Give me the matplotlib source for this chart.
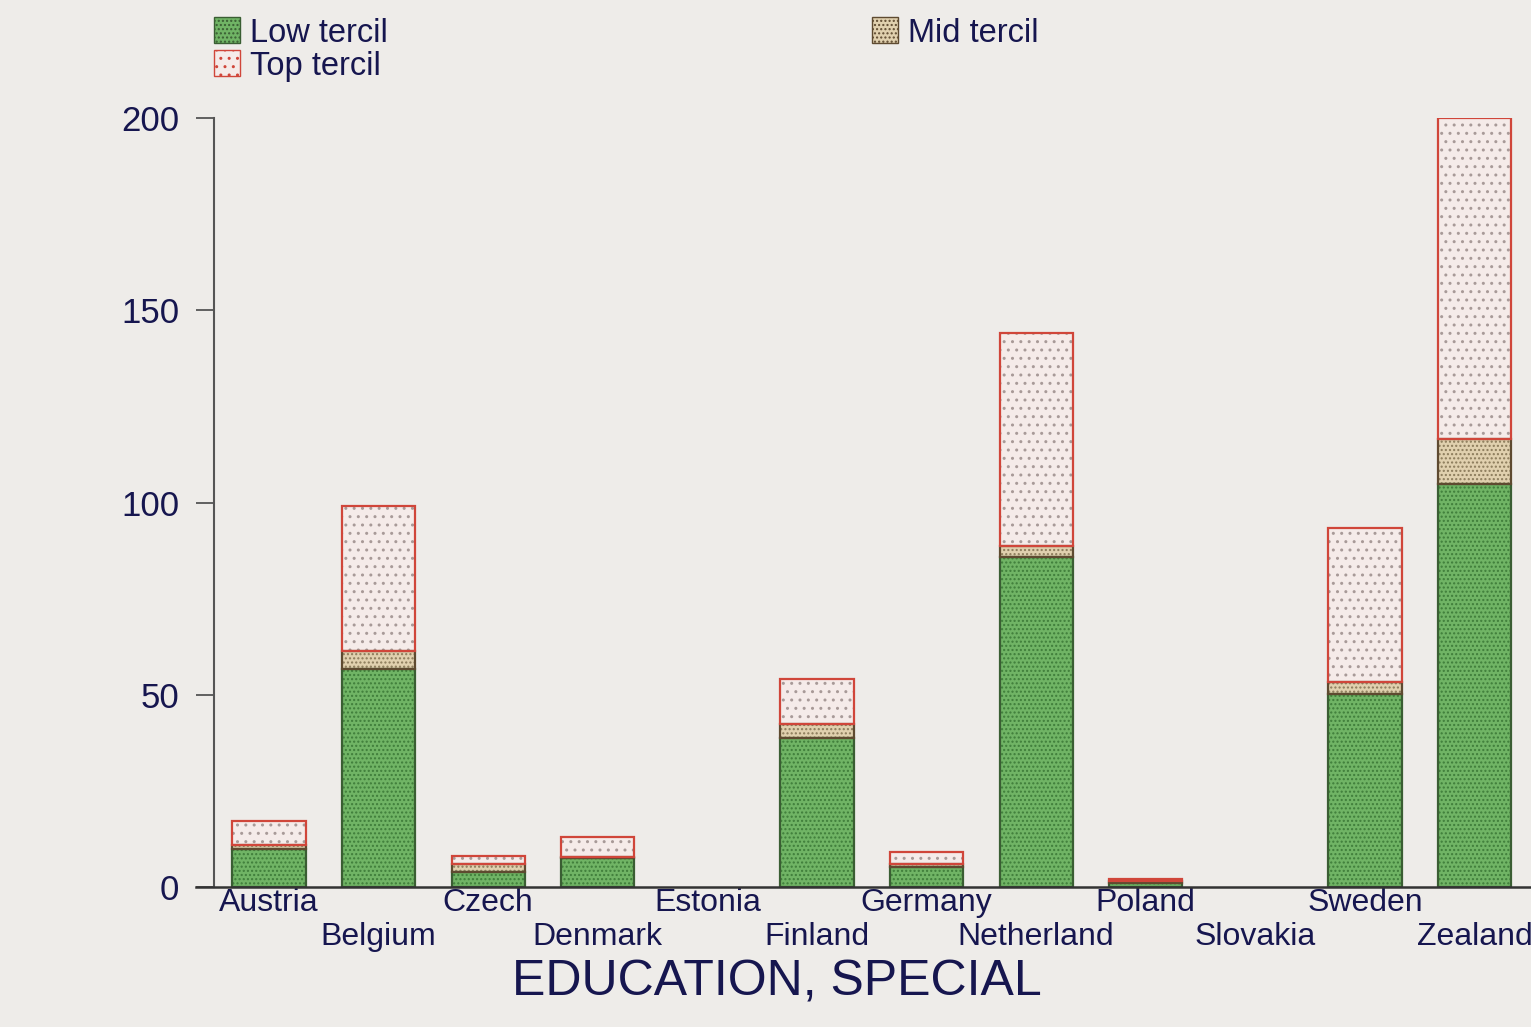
import matplotlib.pyplot as plt
from matplotlib.patches import Patch

plt.rcParams["font.family"] = ["Liberation Sans", "DejaVu Sans"]

countries = ["Austria", "Belgium", "Czech", "Denmark", "Estonia", "Finland",
             "Germany", "Netherland", "Poland", "Slovakia", "Sweden", "Zealand"]
low_tercil = [10, 56.7, 4, 7.5, 0, 38.8, 5.2, 85.8, 1, 0, 50.2, 104.8]
mid_tercil = [1, 4.7, 2, 0.3, 0, 3.6, 0.8, 2.9, 0.5, 0, 3.1, 11.7]
top_tercil = [6.2, 37.7, 2, 5.2, 0, 11.7, 3.1, 55.4, 0.5, 0, 40.1, 83.5]
yticks = [0, 50, 100, 150, 200]

bg = "#eeece9"
navy = "#16164f"
green, green_dot = "#70b465", "#3f7d3a"
tan, tan_dot = "#e0d0ae", "#8a7a5a"
pink, pink_dot, red = "#f5ebe9", "#a89a98", "#d0463a"

fig = plt.figure(figsize=(15.31, 10.27), dpi=100, facecolor=bg)
ax = fig.add_axes([196 / 1531, 1 - 887 / 1027, 1 - 196 / 1531, (887 - 118) / 1027])
ax.set_facecolor(bg)

x = list(range(len(countries)))
w = 0.667
mid_bottom = low_tercil
top_bottom = [a + b for a, b in zip(low_tercil, mid_tercil)]

# fills with dotted hatching, then outlines on top
ax.bar(x, low_tercil, w, color=green, edgecolor=green_dot, hatch="....", linewidth=0)
ax.bar(x, mid_tercil, w, bottom=mid_bottom, color=tan, edgecolor=tan_dot, hatch="....", linewidth=0)
ax.bar(x, top_tercil, w, bottom=top_bottom, color=pink, edgecolor=pink_dot, hatch="..", linewidth=0)
for vals, bot, ec in [(low_tercil, [0] * len(x), "#3a5e33"),
                      (mid_tercil, mid_bottom, "#5e4a30"),
                      (top_tercil, top_bottom, red)]:
    ax.bar([i for i, v in zip(x, vals) if v > 0], [v for v in vals if v > 0], w,
           bottom=[b for b, v in zip(bot, vals) if v > 0],
           fill=False, edgecolor=ec, linewidth=1.6)

ax.set_xlim(-0.666, 11.515)
ax.set_ylim(0, 200)

for s in ["top", "right"]:
    ax.spines[s].set_visible(False)
ax.spines["left"].set_position(("data", -0.5))
ax.spines["left"].set_color("#555555")
ax.spines["left"].set_linewidth(1.5)
ax.spines["bottom"].set_color("#333333")
ax.spines["bottom"].set_linewidth(1.8)

ax.set_yticks(yticks)
ax.tick_params(axis="y", length=13, width=1.3, color="#555555", pad=12,
               labelsize=25, labelcolor=navy)

# country names on two staggered rows: major ticks first row, minor ticks second
ax.set_xticks(x[0::2])
ax.set_xticklabels(countries[0::2])
ax.set_xticks(x[1::2], minor=True)
ax.set_xticklabels(countries[1::2], minor=True)
ax.tick_params(axis="x", which="major", length=0, pad=1, labelsize=23, labelcolor=navy)
ax.tick_params(axis="x", which="minor", length=0, pad=25.5, labelsize=23, labelcolor=navy)
for t in ax.get_xticklabels(which="both"):
    t.set_clip_on(False)

fig.text(777 / 1531, 1 - 995 / 1027, "EDUCATION, SPECIAL", ha="center",
         va="baseline", fontsize=36, color=navy)

# legend, one entry each so the positions can be matched
entries = [
    (Patch(facecolor=green, edgecolor="#3a5e33", hatch="...."), "Low tercil", 214, 33),
    (Patch(facecolor=pink, edgecolor=red, hatch=".."), "Top tercil", 214, 66),
    (Patch(facecolor=tan, edgecolor="#5e4a30", hatch="...."), "Mid tercil", 872, 33),
]
for h, lab, px, py in entries:
    leg = fig.legend([h], [lab], loc="center left",
                     bbox_to_anchor=(px / 1531, 1 - py / 1027), frameon=False,
                     fontsize=23.5, handlelength=0.8, handleheight=0.85,
                     handletextpad=0.3, borderpad=0, borderaxespad=0)
    for t in leg.get_texts():
        t.set_color(navy)

fig.savefig("out.png", dpi=100, facecolor=bg)
